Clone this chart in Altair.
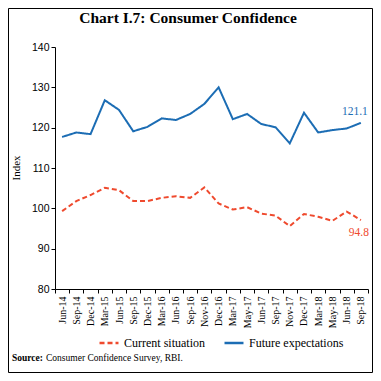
import altair as alt
import pandas as pd

months = ["Jun-14", "Sep-14", "Dec-14", "Mar-15", "Jun-15", "Sep-15", "Dec-15", "Mar-16",
          "Jun-16", "Sep-16", "Nov-16", "Dec-16", "Mar-17", "May-17", "Jun-17", "Sep-17",
          "Nov-17", "Dec-17", "Mar-18", "May-18", "Jun-18", "Sep-18"]
current = [99.3, 101.8, 103.3, 105.1, 104.5, 101.8, 101.8, 102.6, 103.0, 102.6, 105.2,
           101.2, 99.7, 100.3, 98.7, 98.2, 95.6, 98.6, 97.9, 96.9, 99.2, 97.1]
future = [117.7, 118.8, 118.4, 126.8, 124.4, 119.1, 120.2, 122.3, 121.9, 123.4, 125.9,
          130.0, 122.1, 123.4, 120.9, 120.1, 116.1, 123.7, 118.8, 119.4, 119.8, 121.2]
series = ["Current situation", "Future expectations"]
colors = ["#EF4A2E", "#1C6DB4"]

label_text = ["121.1", "94.8"]
label_month = ["Sep-18", "Sep-18"]
label_y = [124.0, 93.8]
label_series = ["Future expectations", "Current situation"]

title_text = "Chart I.7: Consumer Confidence"
y_title = "Index"
source_bold = "Source:"
source_rest = "Consumer Confidence Survey, RBI."

SERIF = "Liberation Serif"
SANS = "Liberation Sans"

rows = []
for m, c, f in zip(months, current, future):
    rows.append({"month": m, "series": series[0], "value": c})
    rows.append({"month": m, "series": series[1], "value": f})
df = pd.DataFrame(rows)

W, H = 313, 242
PL, PT, PR, PB = 47, 39, 5, 84

x_enc = alt.X("month:N", sort=months,
              scale=alt.Scale(type="band", paddingInner=0, paddingOuter=0),
              axis=alt.Axis(title="", labelAngle=270, labelFont=SERIF, labelFontSize=10,
                            labelColor="black", labelPadding=3, tickBand="extent",
                            tickSize=4, tickColor="black", domainColor="black",
                            labelAlign="right", labelBaseline="middle"))
y_enc = alt.Y("value:Q", scale=alt.Scale(domain=[80, 140], nice=False, zero=False),
              axis=alt.Axis(title="", values=[80, 90, 100, 110, 120, 130, 140], grid=False,
                            labelFont=SANS, labelFontSize=10.5, labelColor="black",
                            tickSize=4, tickColor="black", domainColor="black",
                            labelPadding=2))

lines = alt.Chart(df).mark_line(strokeWidth=2).encode(
    x=x_enc,
    y=y_enc,
    color=alt.Color("series:N", sort=series,
                    scale=alt.Scale(domain=series, range=colors),
                    legend=alt.Legend(title="", orient="none", direction="horizontal",
                                      legendX=43, legendY=285, symbolType="stroke",
                                      symbolSize=360, symbolStrokeWidth=2.5,
                                      labelFont=SERIF, labelFontSize=12, labelColor="black",
                                      labelOffset=4, columnPadding=14)),
    strokeDash=alt.StrokeDash("series:N", sort=series,
                              scale=alt.Scale(domain=series, range=[[5, 3], [1, 0]]),
                              legend=None),
    strokeWidth=alt.StrokeWidth("series:N",
                                scale=alt.Scale(domain=series, range=[2.6, 2]),
                                legend=None),
)

lab_df = pd.DataFrame({"month": label_month, "value": label_y, "text": label_text,
                       "series": label_series})


def value_label(idx, dx):
    return alt.Chart(lab_df.iloc[[idx]]).mark_text(font=SERIF, fontSize=11.5, dx=dx).encode(
        x=alt.X("month:N", sort=months),
        y=alt.Y("value:Q"),
        text="text:N",
        color=alt.Color("series:N", scale=alt.Scale(domain=series, range=colors), legend=None),
    )


labels = value_label(0, -6) + value_label(1, -2)

one = pd.DataFrame({"a": [0]})

title = alt.Chart(one).mark_text(text=title_text, font=SERIF, fontSize=15.5,
                                 fontWeight="bold", align="center", baseline="alphabetic",
                                 color="black").encode(
    x=alt.value(133), y=alt.value(-24))

ytitle = alt.Chart(one).mark_text(text=y_title, font=SERIF, fontSize=11, angle=270,
                                  align="center", baseline="middle", color="black").encode(
    x=alt.value(-38), y=alt.value(121))

src1 = alt.Chart(one).mark_text(text=source_bold, font=SERIF, fontSize=9.5, fontWeight="bold",
                                align="left", baseline="alphabetic", color="black").encode(
    x=alt.value(-43), y=alt.value(314))
src2 = alt.Chart(one).mark_text(text=source_rest, font=SERIF, fontSize=9.5,
                                align="left", baseline="alphabetic", color="black").encode(
    x=alt.value(-9), y=alt.value(314))

frame = alt.Chart(one).mark_rect(filled=False, stroke="black", strokeWidth=1).encode(
    x=alt.value(-PL + 0.5), x2=alt.value(W + PR - 0.5),
    y=alt.value(-PT + 0.5), y2=alt.value(H + PB - 0.5))

chart = alt.layer(lines, labels, title, ytitle, src1, src2, frame).resolve_scale(
    color="independent", strokeDash="independent").properties(
    width=W, height=H,
    padding={"left": PL, "top": PT, "right": PR, "bottom": PB},
    autosize=alt.AutoSizeParams(type="none"),
    background="white",
).configure_view(stroke=None)

chart.save("out.html", embed_options={"renderer": "svg", "actions": False})
